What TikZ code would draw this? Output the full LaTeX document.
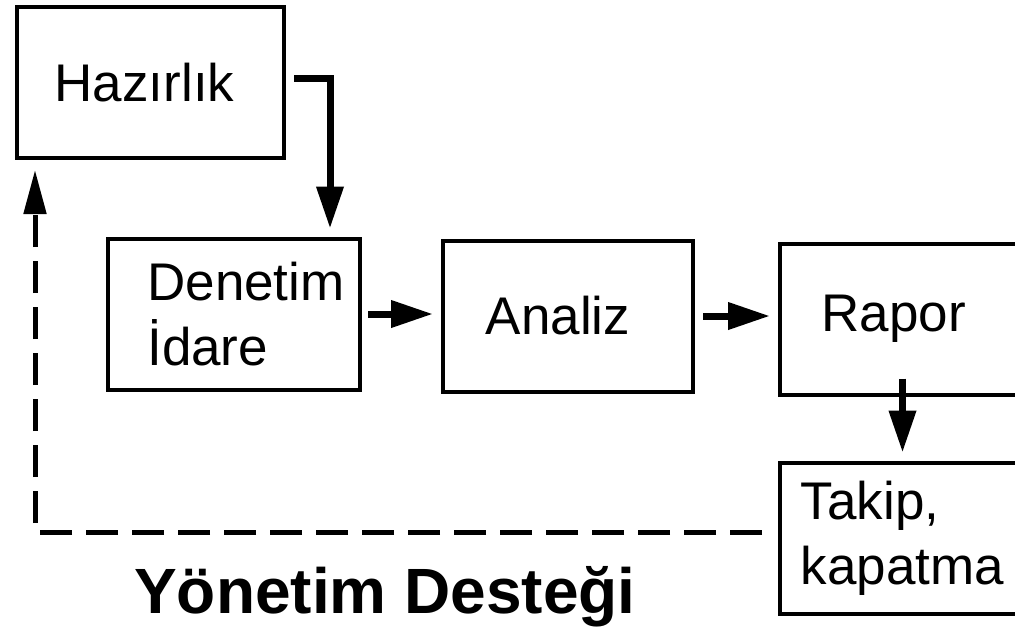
\documentclass[tikz,border=0pt]{standalone}
\usepackage{fontspec}
\setmainfont{Liberation Sans}
\usetikzlibrary{arrows.meta}
\usetikzlibrary{positioning}

\begin{document}
\begin{tikzpicture}[x=1pt, y=-1pt,
        box/.style={draw, line width=4pt, minimum width=#1, minimum height=151pt, inner sep=0pt, align=left, font=\fontsize{53}{65}\selectfont},
        arr/.style={line width=7pt, -{Triangle[length=42pt, width=26pt]}},
        backarr/.style={line width=5pt, dash pattern=on 32pt off 14pt, -{Triangle[length=44pt, width=22pt]}}]
        \useasboundingbox (0,0) rectangle (1015,630);
        \clip (0,0) rectangle (1015,630); % right boxes run off the page

        % Boxes
        \node[box=267pt] (hazirlik) at (150.5,82.5) {Hazırlık\hspace*{12pt}};
        \node[box=252pt] (denetim) at (234,314) {\hspace*{24pt}Denetim\\\hspace*{24pt}İdare};
        \node[box=250pt] (analiz) at (568,316) {Analiz\hspace*{20pt}};
        \node[box=245pt] (rapor) at (902.5,319) {Rapor\hspace*{18pt}};
        \node[box=245pt] (takip) at (902.5,538) {Takip,\\kapatma};

        % Flow
        \draw[arr, shorten >=8pt] ([xshift=8pt, yshift=4pt]hazirlik.east) -| ([xshift=-32pt]denetim.north east);
        \draw[arr, shorten <=6pt, shorten >=8pt] (denetim.east) -- (denetim.east -| analiz.west);
        \draw[arr, shorten <=8pt, shorten >=8pt] (analiz.east) -- (analiz.east -| rapor.west);
        \draw[arr, shorten >=8pt] ([yshift=18pt]rapor.south) -- (takip.north);

        % Feedback loop
        \draw[backarr, shorten <=16pt, shorten >=10pt] ([yshift=6pt]takip.west) -| ([xshift=20pt]hazirlik.south west);

        \node[font=\bfseries\fontsize{64}{70}\selectfont, anchor=base] (destek) at (385,613) {Yönetim Desteği};
    \end{tikzpicture}
\end{document}
